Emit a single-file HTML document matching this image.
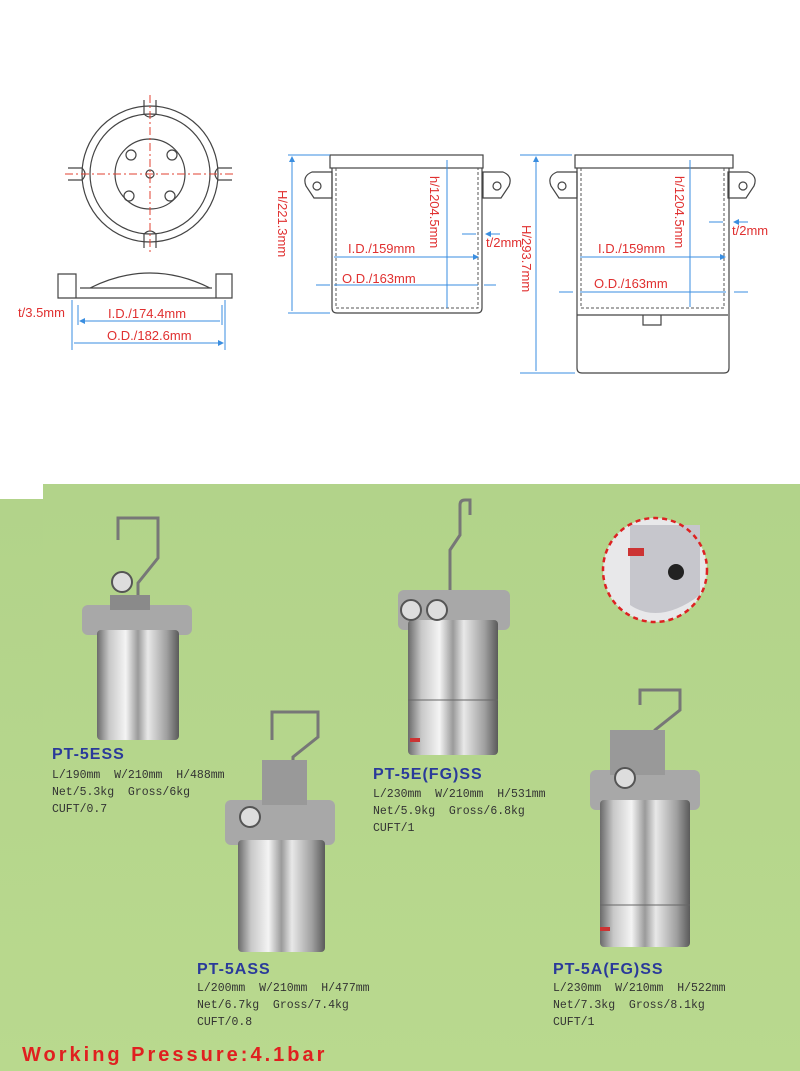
<!DOCTYPE html>
<html><head><meta charset="utf-8"><style>
html,body{margin:0;padding:0;background:#fff}
svg{display:block}
.dim{font-family:"Liberation Sans",sans-serif;font-size:13px;fill:#e03030}
.bl{stroke:#3a8ee0;stroke-width:1;fill:none}
.dr{stroke:#444;stroke-width:1.2;fill:none}
.nm{font-family:"Liberation Sans",sans-serif;font-weight:bold;font-size:16px;letter-spacing:1px;fill:#2a3a9a}
.sp{font-family:"Liberation Mono",monospace;font-size:11.5px;fill:#333;white-space:pre}
</style></head><body>
<svg width="800" height="1071" viewBox="0 0 800 1071" xmlns="http://www.w3.org/2000/svg" xml:space="preserve">
<defs>
<linearGradient id="g" x1="0" y1="0" x2="0" y2="1"><stop offset="0" stop-color="#b2d38a"/><stop offset="1" stop-color="#b9d98e"/></linearGradient>
<linearGradient id="m" x1="0" y1="0" x2="1" y2="0"><stop offset="0" stop-color="#6a6a6a"/><stop offset=".15" stop-color="#c8c8c8"/><stop offset=".35" stop-color="#f4f4f4"/><stop offset=".5" stop-color="#9a9a9a"/><stop offset=".62" stop-color="#e8e8e8"/><stop offset=".85" stop-color="#a0a0a0"/><stop offset="1" stop-color="#5a5a5a"/></linearGradient>
<marker id="a" markerWidth="6" markerHeight="6" refX="5" refY="3" orient="auto-start-reverse"><path d="M0,0L6,3L0,6z" fill="#3a8ee0"/></marker>
</defs>
<rect x="43" y="484" width="757" height="587" fill="url(#g)"/>
<rect x="0" y="499" width="43" height="572" fill="url(#g)"/>

<!-- top-left lid -->
<g class="dr">
<circle cx="150" cy="174" r="68"/><circle cx="150" cy="174" r="60"/><circle cx="150" cy="174" r="35"/>
<circle cx="150" cy="174" r="4"/><circle cx="131" cy="155" r="5"/><circle cx="172" cy="155" r="5"/><circle cx="129" cy="196" r="5"/><circle cx="170" cy="196" r="5"/>
<path d="M144,100v14q6,6 12,0v-14M144,248v-14q6,-6 12,0v14M68,168h14q6,6 0,12h-14M232,168h-14q-6,6 0,12h14"/>
<path d="M58,274h18v24h-18zM216,274h16v24h-16zM76,298h140M80,288h132M90,288q60,-30 120,0"/>
</g>
<path d="M150,95v160M65,174h170" stroke="#e04030" stroke-width="1" stroke-dasharray="8,3,2,3" fill="none"/>
<path class="bl" d="M72,300v50M225,300v50M78,305v20M222,305v20"/>
<path class="bl" d="M80,321h140M74,343h149" marker-start="url(#a)" marker-end="url(#a)"/>
<text class="dim" x="18" y="317">t/3.5mm</text>
<text class="dim" x="108" y="318">I.D./174.4mm</text>
<text class="dim" x="107" y="340">O.D./182.6mm</text>

<!-- middle pot -->
<g class="dr">
<rect x="330" y="155" width="153" height="13"/>
<path d="M332,168v140q0,5 5,5h140q5,0 5,-5v-140"/>
<path d="M332,172h-20q-10,4 -6,14l8,12h18zM483,172h20q10,4 6,14l-8,12h-18z"/>
<circle cx="317" cy="186" r="4"/><circle cx="497" cy="186" r="4"/>
</g>
<path d="M336,168v140h142v-140" stroke="#555" stroke-dasharray="3,2" fill="none"/>
<path class="bl" d="M288,155h42M288,313h42"/>
<path class="bl" d="M292,157v154M447,160v148M334,257h144" marker-start="url(#a)" marker-end="url(#a)"/>
<path class="bl" d="M316,285h14M496,285h-12M462,234h14M500,234h-14" marker-end="url(#a)"/>
<path d="M334,285h144" stroke="#3a8ee0"/>
<text class="dim" transform="translate(278,190) rotate(90)">H/221.3mm</text>
<text class="dim" transform="translate(430,176) rotate(90)">h/1204.5mm</text>
<text class="dim" x="348" y="253">I.D./159mm</text>
<text class="dim" x="342" y="283">O.D./163mm</text>
<text class="dim" x="486" y="247">t/2mm</text>

<!-- right pot -->
<g class="dr">
<rect x="575" y="155" width="158" height="13"/>
<path d="M577,168v200q0,5 5,5h142q5,0 5,-5v-200"/>
<path d="M577,315h151M643,315v10h18v-10"/>
<path d="M577,172h-20q-10,4 -6,14l8,12h18zM728,172h20q10,4 6,14l-8,12h-18z"/>
<circle cx="562" cy="186" r="4"/><circle cx="743" cy="186" r="4"/>
</g>
<path d="M581,168v140h143v-140" stroke="#555" stroke-dasharray="3,2" fill="none"/>
<path class="bl" d="M520,155h52M520,373h55"/>
<path class="bl" d="M536,157v214M690,160v147M580,257h145" marker-start="url(#a)" marker-end="url(#a)"/>
<path class="bl" d="M559,292h14M748,292h-14M709,222h14M748,222h-14" marker-end="url(#a)"/>
<path d="M580,292h146" stroke="#3a8ee0"/>
<text class="dim" transform="translate(522,225) rotate(90)">H/293.7mm</text>
<text class="dim" transform="translate(675,176) rotate(90)">h/1204.5mm</text>
<text class="dim" x="598" y="253">I.D./159mm</text>
<text class="dim" x="594" y="288">O.D./163mm</text>
<text class="dim" x="732" y="235">t/2mm</text>

<!-- products -->
<g stroke="#777" stroke-width="3" fill="none">
<path d="M118,540v-22h40v40l-20,25v30"/>
<path d="M450,590v-40l10,-15v-30q0,-5 5,-5h5v15"/>
<path d="M272,740v-28h46v25l-25,20v30"/>
<path d="M640,705v-15h40v20l-25,20v30"/>
</g>
<!-- PT-5ESS -->
<rect x="82" y="605" width="110" height="30" rx="6" fill="#a8a8a8"/>
<rect x="97" y="630" width="82" height="110" rx="4" fill="url(#m)"/>
<circle cx="122" cy="582" r="10" fill="#ddd" stroke="#555" stroke-width="2"/>
<rect x="110" y="595" width="40" height="15" fill="#8a8a8a"/>
<!-- PT-5E(FG)SS -->
<rect x="398" y="590" width="112" height="40" rx="6" fill="#a8a8a8"/>
<rect x="408" y="620" width="90" height="135" rx="4" fill="url(#m)"/>
<path d="M408,700h90" stroke="#666"/>
<circle cx="411" cy="610" r="10" fill="#ddd" stroke="#555" stroke-width="2"/>
<circle cx="437" cy="610" r="10" fill="#ddd" stroke="#555" stroke-width="2"/>
<rect x="410" y="738" width="10" height="4" fill="#c33"/>
<!-- PT-5ASS -->
<rect x="225" y="800" width="110" height="45" rx="6" fill="#a8a8a8"/>
<rect x="238" y="840" width="87" height="112" rx="4" fill="url(#m)"/>
<rect x="262" y="760" width="45" height="45" fill="#999"/>
<circle cx="250" cy="817" r="10" fill="#ddd" stroke="#555" stroke-width="2"/>
<!-- PT-5A(FG)SS -->
<rect x="590" y="770" width="110" height="40" rx="6" fill="#a8a8a8"/>
<rect x="600" y="800" width="90" height="147" rx="4" fill="url(#m)"/>
<path d="M600,905h90" stroke="#666"/>
<rect x="610" y="730" width="55" height="45" fill="#999"/>
<circle cx="625" cy="778" r="10" fill="#ddd" stroke="#555" stroke-width="2"/>
<rect x="600" y="927" width="10" height="4" fill="#c33"/>
<!-- detail circle -->
<circle cx="655" cy="570" r="52" fill="#e8e8ea"/>
<path d="M630,525v80q30,20 70,-10v-70z" fill="#c6c6cc"/>
<rect x="628" y="548" width="16" height="8" fill="#c33"/>
<circle cx="676" cy="572" r="8" fill="#222"/>
<circle cx="655" cy="570" r="52" fill="none" stroke="#d22" stroke-width="2.5" stroke-dasharray="5,4"/>

<text class="nm" x="52" y="759">PT-5ESS</text>
<text class="sp" x="52" y="778">L/190mm  W/210mm  H/488mm</text>
<text class="sp" x="52" y="795">Net/5.3kg  Gross/6kg</text>
<text class="sp" x="52" y="812">CUFT/0.7</text>
<text class="nm" x="373" y="779">PT-5E(FG)SS</text>
<text class="sp" x="373" y="797">L/230mm  W/210mm  H/531mm</text>
<text class="sp" x="373" y="814">Net/5.9kg  Gross/6.8kg</text>
<text class="sp" x="373" y="831">CUFT/1</text>
<text class="nm" x="197" y="974">PT-5ASS</text>
<text class="sp" x="197" y="991">L/200mm  W/210mm  H/477mm</text>
<text class="sp" x="197" y="1008">Net/6.7kg  Gross/7.4kg</text>
<text class="sp" x="197" y="1025">CUFT/0.8</text>
<text class="nm" x="553" y="974">PT-5A(FG)SS</text>
<text class="sp" x="553" y="991">L/230mm  W/210mm  H/522mm</text>
<text class="sp" x="553" y="1008">Net/7.3kg  Gross/8.1kg</text>
<text class="sp" x="553" y="1025">CUFT/1</text>
<text x="22" y="1061" font-family="Liberation Sans,sans-serif" font-weight="bold" font-size="20" letter-spacing="3" fill="#e02020">Working Pressure:4.1bar</text>
</svg>
</body></html>
